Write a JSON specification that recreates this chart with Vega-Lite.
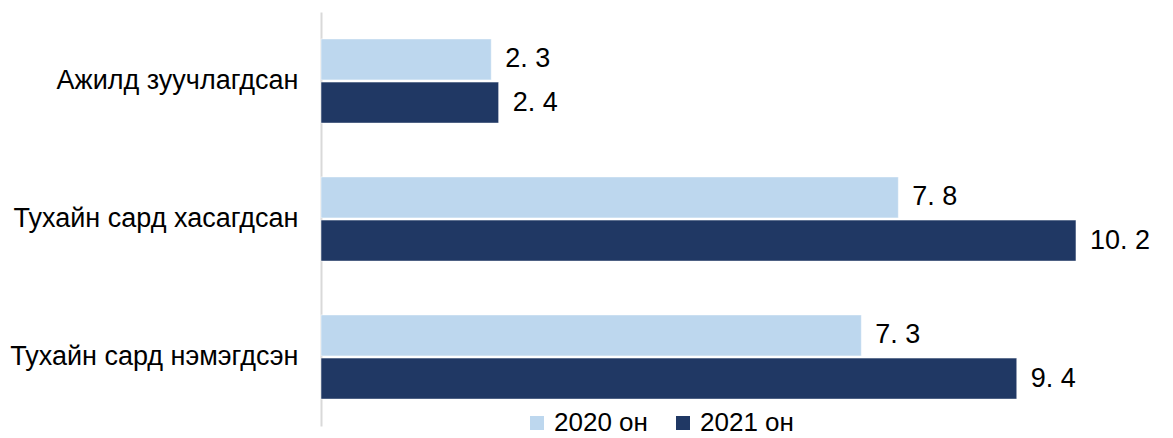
{
  "$schema": "https://vega.github.io/schema/vega-lite/v6.json",
  "width": 829,
  "height": 414,
  "autosize": {"type": "none"},
  "padding": {"left": 321, "top": 12, "right": 23, "bottom": 12},
  "config": {
    "view": {"stroke": null},
    "font": "Liberation Sans",
    "text": {"font": "Liberation Sans"}
  },
  "data": {
    "values": [
      {"category": "Ажилд зуучлагдсан", "series": "2020 он", "value": 2.3, "label": "2. 3"},
      {"category": "Ажилд зуучлагдсан", "series": "2021 он", "value": 2.4, "label": "2. 4"},
      {"category": "Тухайн сард хасагдсан", "series": "2020 он", "value": 7.8, "label": "7. 8"},
      {"category": "Тухайн сард хасагдсан", "series": "2021 он", "value": 10.2, "label": "10. 2"},
      {"category": "Тухайн сард нэмэгдсэн", "series": "2020 он", "value": 7.3, "label": "7. 3"},
      {"category": "Тухайн сард нэмэгдсэн", "series": "2021 он", "value": 9.4, "label": "9. 4"}
    ]
  },
  "encoding": {
    "y": {
      "field": "category",
      "type": "nominal",
      "sort": ["Ажилд зуучлагдсан", "Тухайн сард хасагдсан", "Тухайн сард нэмэгдсэн"],
      "scale": {"paddingInner": 0.39, "paddingOuter": 0.195},
      "axis": {
        "title": null,
        "ticks": false,
        "domainColor": "#d9d9d9",
        "domainWidth": 2,
        "labelFontSize": 27,
        "labelColor": "#000000",
        "labelPadding": 23,
        "labelLimit": 0,
        "labelFont": "Liberation Sans"
      }
    },
    "yOffset": {
      "field": "series",
      "type": "nominal",
      "sort": ["2020 он", "2021 он"],
      "scale": {"paddingInner": 0.05}
    },
    "x": {
      "field": "value",
      "type": "quantitative",
      "scale": {"domain": [0, 11.2], "nice": false, "zero": true},
      "axis": null
    }
  },
  "layer": [
    {
      "mark": {"type": "bar", "stroke": "#ffffff", "strokeWidth": 0.5},
      "encoding": {
        "color": {
          "field": "series",
          "type": "nominal",
          "sort": ["2020 он", "2021 он"],
          "scale": {"range": ["#BDD7EE", "#203864"]},
          "legend": {
            "title": null,
            "orient": "none",
            "legendX": 203,
            "legendY": 398,
            "direction": "horizontal",
            "symbolType": "square",
            "symbolSize": 196,
            "symbolStrokeWidth": 0,
            "labelFontSize": 26,
            "labelColor": "#000000",
            "labelFont": "Liberation Sans",
            "labelOffset": 4,
            "columnPadding": 22,
            "labelLimit": 0
          }
        }
      }
    },
    {
      "mark": {"type": "text", "align": "left", "baseline": "middle", "dx": 14, "fontSize": 27, "color": "#000000"},
      "encoding": {
        "text": {"field": "label"}
      }
    }
  ]
}
